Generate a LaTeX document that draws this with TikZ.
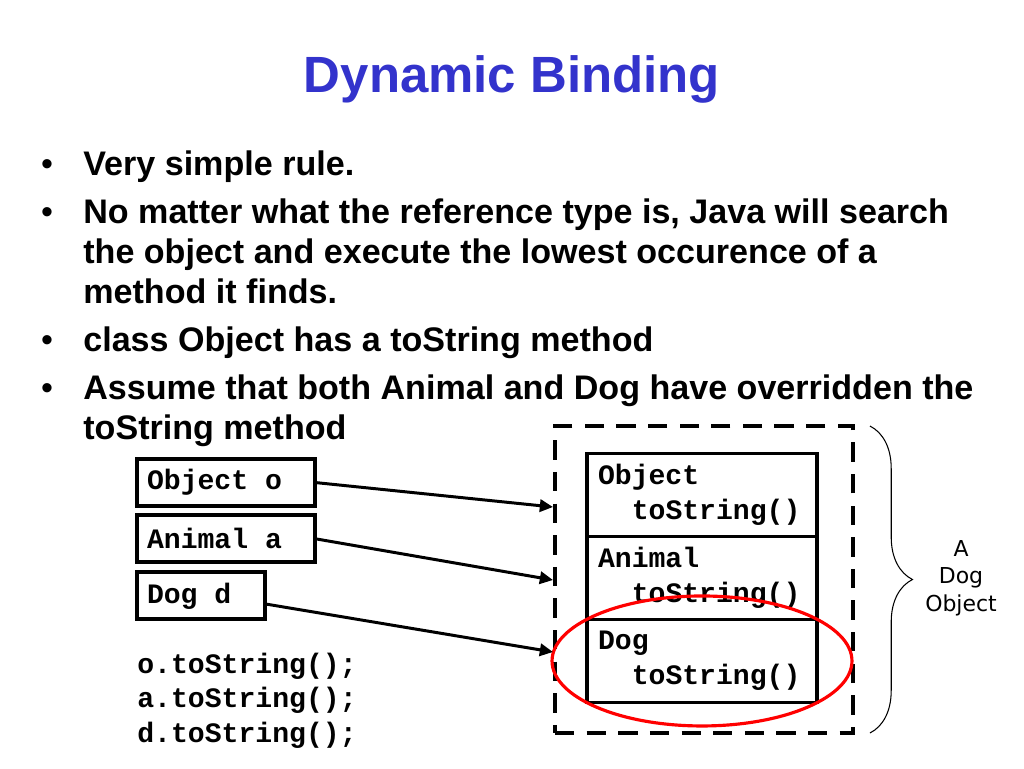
\documentclass[tikz,border=0pt]{standalone}
\usepackage{fontspec}
\setmainfont{Liberation Sans}
\setmonofont{Liberation Mono}
\newfontfamily\dogfont{DejaVu Sans}
\usepackage{xcolor}
\usetikzlibrary{arrows.meta,positioning,decorations.pathreplacing}
\definecolor{titleblue}{RGB}{51,51,204}
\newcommand{\monosp}{\hspace*{0.6em}}

\begin{document}
\begin{tikzpicture}[x=0.02cm, y=-0.02cm,
        every node/.style={inner sep=0pt},
        line/.style={font=\bfseries\fontsize{19.4}{22.7}\selectfont, anchor=base west},
        dot/.style={font=\fontsize{19.4}{22.7}\selectfont, anchor=base},
        ref/.style={draw, line width=2.2pt, outer sep=0pt, inner xsep=0.2cm,
            minimum height=0.94cm, align=left,
            font=\ttfamily\bfseries\fontsize{16}{19.6}\selectfont},
        layer/.style={draw, line width=2.2pt, outer sep=0pt, inner xsep=0.22cm,
            minimum height=1.66cm, text width=4.16cm, align=left,
            font=\ttfamily\bfseries\fontsize{16}{19.8}\selectfont},
        ptr/.style={line width=1.7pt, -{Triangle[length=7.5pt,width=7pt]}}]
        \useasboundingbox (0,0) rectangle (1024,768);
        \node[font=\bfseries\fontsize{29}{34}\selectfont, text=titleblue, anchor=base] 
        (title) at (512,92) {Dynamic Binding};
        \foreach \y/\n in {175/1, 223.3/2, 351.3/3, 399.3/4}
            \node[dot] (dot\n) at (47,\y) {\textbullet};
        \node[line] (b1) at (83,175) {Very simple rule.};
        \node[line] (b2a) at (83,223.3) {No matter what the reference type is, Java will search};
        \node[line] (b2b) at (83,263.3) {the object and execute the lowest occurence of a};
        \node[line] (b2c) at (83,303.3) {method it finds.};
        \node[line] (b3) at (83,351.3) {class Object has a toString method};
        \node[line] (b4a) at (83,399.3) {Assume that both Animal and Dog have overridden the};
        \node[line] (b4b) at (83,439.3) {toString method};
        \node[ref, text width=3.16cm] (objo) at (226,482.5) {Object\monosp o};
        \node[ref, text width=3.16cm] (anima) at (226,538.7) {Animal\monosp a};
        \node[ref, text width=2.16cm] (dogd) at (201,595.8) {Dog\monosp d};
        \node[font=\ttfamily\bfseries\fontsize{16}{19.6}\selectfont, align=left, anchor=base west] 
        (calls) at (137,742) {o.toString();\\a.toString();\\d.toString();};
        \node[draw, dashed, dash pattern=on 11pt off 7pt, line width=2.3pt, outer sep=0pt,
            minimum width=5.96cm, minimum height=6.14cm] (dogobj) at (704,579.5) {};
        \node[layer] (stobj) at (702,495) {Object\\\phantom{xx}toString()};
        \node[layer, below=0pt of stobj] (stani) {Animal\\\phantom{xx}toString()};
        \node[layer, below=0pt of stani] (stdog) {Dog\\\phantom{xx}toString()};
        \draw[red, line width=1.8pt] (stdog.center) ellipse [x radius=3cm, y radius=1.3cm];
        \coordinate (tipo) at (553,507);
        \coordinate (tipa) at (553,580);
        \coordinate (tipd) at (553,652);
        \draw[ptr] (objo.east) -- (tipo);
        \draw[ptr] (anima.east) -- (tipa);
        \draw[ptr] ([yshift=-4.6pt]dogd.east) -- (tipd);
        \draw[decorate, decoration={brace, amplitude=0.85cm}, line width=0.6pt] 
        ([xshift=0.34cm]dogobj.north east) -- ([xshift=0.34cm]dogobj.south east);
        \node[font=\dogfont\fontsize{12.5}{15.6}\selectfont, align=center] 
        (dogtxt) at (961,578) {A\\Dog\\Object};
    \end{tikzpicture}
\end{document}
